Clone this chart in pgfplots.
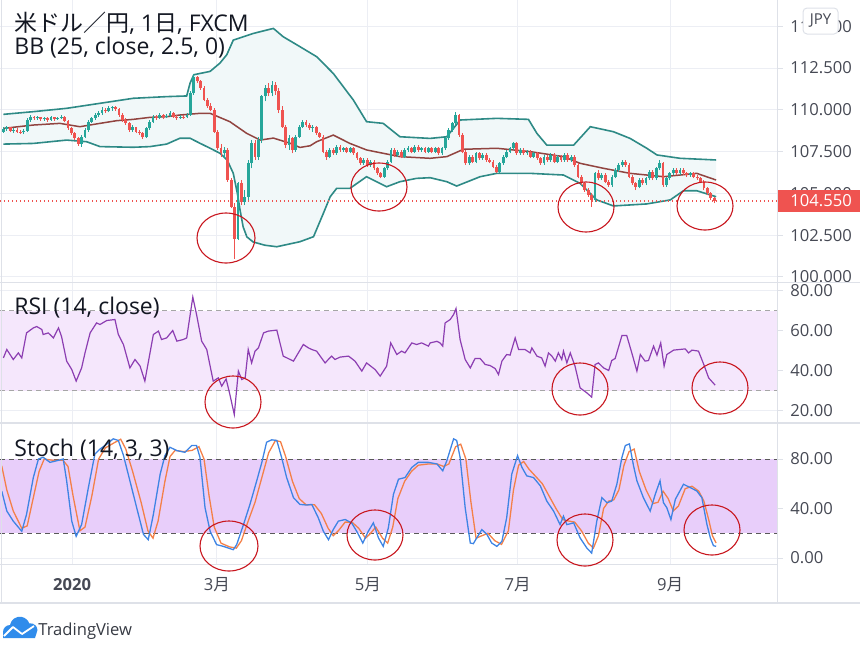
\documentclass[border=0pt]{standalone}
\usepackage{pgfplots}
\pgfplotsset{compat=1.18}
\usepackage{pgfplotstable}
\usepackage{fontspec}
\setmainfont{Open Sans}
\newfontfamily\cjk{Noto Sans CJK JP}
\definecolor{upc}{RGB}{38,166,154}
\definecolor{dnc}{RGB}{239,83,80}
\definecolor{bbc}{RGB}{46,138,134}
\definecolor{bbfill}{RGB}{241,248,249}
\definecolor{basisc}{RGB}{145,68,64}
\definecolor{rsic}{RGB}{140,62,178}
\definecolor{rsifill}{RGB}{245,231,252}
\definecolor{stfill}{RGB}{232,206,250}
\definecolor{kc}{RGB}{62,132,228}
\definecolor{dc}{RGB}{244,128,72}
\definecolor{gridc}{RGB}{236,238,244}
\definecolor{sepc}{RGB}{222,225,232}
\definecolor{tickc}{RGB}{70,73,84}
\definecolor{titlec}{RGB}{19,23,34}
\definecolor{circc}{RGB}{200,22,30}
\definecolor{tvblue}{RGB}{48,140,235}

\pgfplotstableread{
i o h l c
1 108.70 109.00 108.60 108.85
2 108.85 109.05 108.75 108.95
3 108.95 109.00 108.65 108.75
4 108.75 108.90 108.60 108.80
5 108.80 108.90 108.60 108.70
6 108.70 108.80 108.55 108.65
7 108.65 108.85 108.55 108.75
8 108.75 109.50 108.70 109.40
9 109.40 109.70 109.30 109.60
10 109.60 109.65 109.40 109.50
11 109.50 109.65 109.40 109.55
12 109.55 109.60 109.35 109.45
13 109.45 109.60 109.35 109.50
14 109.50 109.55 109.30 109.40
15 109.40 109.65 109.35 109.55
16 109.55 109.60 109.35 109.45
17 109.45 109.60 109.40 109.50
18 109.50 109.70 109.45 109.60
19 109.60 109.65 109.25 109.35
20 109.35 109.40 108.80 108.90
21 108.90 109.00 108.50 108.60
22 108.60 108.70 108.20 108.30
23 108.30 108.40 107.85 107.95
24 107.95 108.50 107.80 108.40
25 108.40 108.90 108.30 108.80
26 108.80 109.40 108.70 109.30
27 109.30 109.60 109.20 109.50
28 109.50 109.80 109.40 109.70
29 109.70 109.95 109.60 109.80
30 109.80 110.15 109.70 110.00
31 110.00 110.10 109.80 109.90
32 109.90 110.20 109.85 110.10
33 110.10 110.25 109.95 110.15
34 110.15 110.25 109.95 110.05
35 110.05 110.10 109.60 109.70
36 109.70 109.80 109.30 109.40
37 109.40 109.50 109.10 109.20
38 109.20 109.30 108.70 108.80
39 108.80 109.10 108.70 108.95
40 108.95 109.00 108.60 108.70
41 108.70 108.80 108.50 108.60
42 108.60 108.70 108.25 108.35
43 108.35 109.00 108.30 108.90
44 108.90 109.40 108.80 109.30
45 109.30 109.70 109.20 109.60
46 109.60 109.70 109.40 109.50
47 109.50 109.80 109.45 109.70
48 109.70 109.75 109.45 109.55
49 109.55 109.75 109.50 109.65
50 109.65 109.90 109.60 109.80
51 109.80 109.85 109.50 109.60
52 109.60 109.70 109.40 109.50
53 109.50 109.70 109.45 109.60
54 109.60 109.70 109.45 109.55
55 109.55 109.80 109.50 109.70
56 109.70 111.10 109.65 111.00
57 111.00 112.15 110.90 111.95
58 111.95 112.05 111.60 111.70
59 111.70 111.80 111.20 111.30
60 111.30 111.40 110.50 110.60
61 110.60 110.70 110.10 110.20
62 110.20 110.40 109.90 110.00
63 110.00 110.10 108.60 108.70
64 108.70 108.80 107.60 107.70
65 107.70 107.95 107.20 107.40
66 107.40 107.80 107.10 107.60
67 107.60 107.70 105.70 105.80
68 105.80 105.95 104.10 104.20
69 104.20 104.40 101.10 102.30
70 102.30 105.70 102.20 105.60
71 105.60 105.80 104.30 104.50
72 104.50 105.20 104.30 104.80
73 104.80 107.00 104.60 106.80
74 106.80 108.20 106.50 108.00
75 108.00 108.20 107.00 107.20
76 107.20 108.40 107.00 108.20
77 108.20 110.90 108.00 110.80
78 110.80 111.50 110.50 111.30
79 111.30 111.60 110.80 111.00
80 111.00 111.75 110.80 111.50
81 111.50 111.65 110.90 111.10
82 111.10 111.30 109.80 110.00
83 110.00 110.20 108.90 109.00
84 109.00 109.10 107.70 107.90
85 107.90 108.50 107.60 108.30
86 108.30 108.40 107.40 107.60
87 107.60 108.50 107.50 108.40
88 108.40 109.10 108.30 109.00
89 109.00 109.40 108.90 109.30
90 109.30 109.40 108.95 109.10
91 109.10 109.20 108.80 108.90
92 108.90 109.10 108.70 109.00
93 109.00 109.05 108.50 108.60
94 108.60 108.70 108.30 108.40
95 108.40 108.50 107.40 107.50
96 107.50 107.60 107.00 107.20
97 107.20 107.70 107.10 107.60
98 107.60 107.70 107.30 107.40
99 107.40 107.90 107.30 107.80
100 107.80 107.90 107.50 107.60
101 107.60 107.80 107.50 107.70
102 107.70 107.80 107.40 107.50
103 107.50 107.80 107.40 107.70
104 107.70 107.75 107.30 107.40
105 107.40 107.50 107.00 107.10
106 107.10 107.20 106.70 106.80
107 106.80 107.10 106.70 107.00
108 107.00 107.10 106.60 106.70
109 106.70 107.00 106.60 106.90
110 106.90 107.00 106.40 106.50
111 106.50 106.60 106.10 106.20
112 106.20 106.30 105.90 106.00
113 106.00 106.60 105.95 106.50
114 106.50 107.00 106.40 106.90
115 106.90 107.70 106.80 107.60
116 107.60 107.70 107.20 107.30
117 107.30 107.60 107.20 107.50
118 107.50 107.60 107.10 107.20
119 107.20 107.70 107.10 107.60
120 107.60 107.85 107.50 107.70
121 107.70 107.80 107.40 107.50
122 107.50 107.90 107.40 107.80
123 107.80 107.90 107.50 107.60
124 107.60 107.80 107.50 107.70
125 107.70 107.80 107.40 107.50
126 107.50 107.80 107.40 107.70
127 107.70 107.80 107.40 107.50
128 107.50 107.80 107.40 107.70
129 107.70 107.75 107.30 107.40
130 107.40 107.80 107.30 107.70
131 107.70 108.40 107.60 108.30
132 108.30 108.90 108.20 108.80
133 108.80 109.30 108.70 109.20
134 109.20 109.85 109.10 109.70
135 109.70 109.75 108.40 108.50
136 108.50 108.60 107.40 107.50
137 107.50 107.60 106.70 106.80
138 106.80 107.30 106.70 107.20
139 107.20 107.30 106.80 106.90
140 106.90 107.50 106.80 107.40
141 107.40 107.50 107.00 107.10
142 107.10 107.40 107.00 107.30
143 107.30 107.40 106.90 107.00
144 107.00 107.10 106.80 106.90
145 106.90 107.00 106.50 106.60
146 106.60 106.70 106.20 106.30
147 106.30 106.90 106.20 106.80
148 106.80 107.30 106.70 107.20
149 107.20 107.60 107.10 107.50
150 107.50 107.80 107.40 107.70
151 107.70 108.10 107.60 108.00
152 108.00 108.05 107.30 107.40
153 107.40 107.70 107.30 107.60
154 107.60 107.70 107.30 107.40
155 107.40 107.60 107.30 107.50
156 107.50 107.60 107.10 107.20
157 107.20 107.50 107.10 107.40
158 107.40 107.50 107.00 107.10
159 107.10 107.20 106.70 106.80
160 106.80 107.30 106.70 107.20
161 107.20 107.30 106.90 107.00
162 107.00 107.40 106.90 107.30
163 107.30 107.40 106.80 106.90
164 106.90 107.30 106.80 107.20
165 107.20 107.30 106.90 107.00
166 107.00 107.40 106.90 107.30
167 107.30 107.40 106.90 107.00
168 107.00 107.30 106.90 107.20
169 107.20 107.30 106.60 106.70
170 106.70 106.80 105.90 106.00
171 106.00 106.10 105.50 105.60
172 105.60 105.70 105.10 105.20
173 105.20 105.30 104.80 104.90
174 104.90 105.00 104.20 104.60
175 104.60 106.30 104.50 106.20
176 106.20 106.40 105.80 105.90
177 105.90 106.20 105.80 106.10
178 106.10 106.20 105.60 105.70
179 105.70 105.80 105.40 105.50
180 105.50 106.10 105.40 106.00
181 106.00 106.50 105.90 106.40
182 106.40 106.80 106.30 106.70
183 106.70 107.00 106.60 106.90
184 106.90 107.00 106.60 106.70
185 106.70 106.80 105.90 106.00
186 106.00 106.10 105.50 105.60
187 105.60 105.70 105.20 105.40
188 105.40 105.90 105.30 105.80
189 105.80 105.90 105.50 105.60
190 105.60 106.00 105.50 105.90
191 105.90 106.40 105.80 106.30
192 106.30 106.40 105.80 105.90
193 105.90 106.60 105.80 106.50
194 106.50 107.00 106.40 106.80
195 106.80 106.90 105.40 105.50
196 105.50 106.00 105.40 105.90
197 105.90 106.30 105.80 106.20
198 106.20 106.50 106.10 106.40
199 106.40 106.50 106.10 106.20
200 106.20 106.50 106.10 106.40
201 106.40 106.50 106.10 106.20
202 106.20 106.30 106.00 106.10
203 106.10 106.30 106.00 106.20
204 106.20 106.30 105.90 106.00
205 106.00 106.10 105.80 105.90
206 105.90 106.00 105.60 105.70
207 105.70 105.80 105.20 105.30
208 105.30 105.40 104.90 105.00
209 105.00 105.10 104.60 104.70
210 104.70 104.80 104.40 104.55
}\candles

\pgfplotsset{
  panel/.style={scale only axis, width=388.5pt, xmin=0, xmax=228.5,
    axis line style={draw=none},
    xtick={21.18,63.8,108.2,152.2,197.1}, xticklabels={},
    xtick style={draw=none},
    ytick pos=right, ytick align=outside, major tick length=3pt,
    ytick style={draw=sepc, line width=0.5pt},
    xmajorgrids, ymajorgrids, grid style={draw=gridc, line width=0.5pt},
    yticklabel pos=right,
    yticklabel style={anchor=west, inner sep=0pt, xshift=3.5pt,
      font=\fontsize{8.3}{9}\selectfont, text=tickc}},
  wick/.style={draw=none, mark=none, forget plot,
    error bars/.cd, y dir=plus, y explicit, error mark=none,
    error bar style={draw=#1, line width=0.45pt}},
  body/.style={draw=none, mark=none, forget plot,
    error bars/.cd, y dir=plus, y explicit, error mark=none,
    error bar style={draw=#1, line width=1.4pt}},
}

\begin{document}
\begin{tikzpicture}
\useasboundingbox (0,0) rectangle (430pt,-324pt);

% ---------------- main price panel ----------------
\begin{axis}[panel, at={(0pt,0pt)}, anchor=north west, height=141pt,
  ymin=99.70, ymax=116.57, ytick={100,102.5,105,107.5,110,112.5,115},
  yticklabel style={/pgf/number format/.cd, fixed, fixed zerofill, precision=3, 1000 sep={}, assume math mode=true}]
% band fill: upper band forward, lower band backward
\addplot[fill=bbfill, draw=none] coordinates {
(1.0,109.73)(9.8,109.89)(19.6,110.09)(29.4,110.39)(39.2,110.69)(49.0,110.79)(54.9,110.83)(55.9,111.60)(57.0,112.10)(61.8,112.30)(64.7,112.80)(66.7,113.30)(68.6,114.17)(74.5,114.57)(78.4,114.77)(80.4,114.87)(83.3,114.37)(88.2,113.78)(93.1,113.18)(98.0,112.18)(103.9,110.59)(107.8,109.29)(112.7,109.19)(117.6,108.39)(126.5,108.29)(131.4,108.39)(135.3,109.39)(146.1,109.49)(155.4,109.43)(157.9,108.59)(160.8,107.89)(168.7,107.89)(173.6,108.99)(180.4,108.69)(185.3,108.29)(190.2,107.70)(193.2,107.30)(200.0,107.10)(210.6,107.00)
(210.6,104.80)(204.9,105.16)(201.0,105.16)(197.1,104.61)(190.2,104.37)(180.4,104.25)(175.5,104.61)(170.6,105.60)(165.7,106.10)(155.9,106.20)(146.1,106.20)(141.2,106.00)(134.3,105.44)(131.4,105.70)(126.5,105.94)(122.5,105.90)(117.6,105.70)(113.7,105.40)(107.8,106.00)(102.9,105.30)(99.0,105.30)(97.1,104.80)(95.1,103.81)(92.2,102.41)(88.2,102.11)(81.4,101.81)(77.9,101.90)(74.4,102.10)(72.6,102.40)(71.5,103.00)(70.6,104.00)(69.8,105.00)(68.6,106.20)(66.8,107.00)(64.7,107.40)(61.8,107.70)(58.8,108.00)(55.9,108.30)(52.9,108.30)(49.0,107.95)(44.1,107.80)(39.2,107.76)(29.4,107.80)(25.5,108.09)(19.6,108.19)(9.8,107.99)(1.0,107.95)};
\addplot[draw=bbc, line width=0.8pt] coordinates {
(1.0,109.73)(9.8,109.89)(19.6,110.09)(29.4,110.39)(39.2,110.69)(49.0,110.79)(54.9,110.83)(55.9,111.60)(57.0,112.10)(61.8,112.30)(64.7,112.80)(66.7,113.30)(68.6,114.17)(74.5,114.57)(78.4,114.77)(80.4,114.87)(83.3,114.37)(88.2,113.78)(93.1,113.18)(98.0,112.18)(103.9,110.59)(107.8,109.29)(112.7,109.19)(117.6,108.39)(126.5,108.29)(131.4,108.39)(135.3,109.39)(146.1,109.49)(155.4,109.43)(157.9,108.59)(160.8,107.89)(168.7,107.89)(173.6,108.99)(180.4,108.69)(185.3,108.29)(190.2,107.70)(193.2,107.30)(200.0,107.10)(210.6,107.00)};
\addplot[draw=bbc, line width=0.8pt] coordinates {
(1.0,107.95)(9.8,107.99)(19.6,108.19)(25.5,108.09)(29.4,107.80)(39.2,107.76)(44.1,107.80)(49.0,107.95)(52.9,108.30)(55.9,108.30)(58.8,108.00)(61.8,107.70)(64.7,107.40)(66.8,107.00)(68.6,106.20)(69.8,105.00)(70.6,104.00)(71.5,103.00)(72.6,102.40)(74.4,102.10)(77.9,101.90)(81.4,101.81)(88.2,102.11)(92.2,102.41)(95.1,103.81)(97.1,104.80)(99.0,105.30)(102.9,105.30)(107.8,106.00)(113.7,105.40)(117.6,105.70)(122.5,105.90)(126.5,105.94)(131.4,105.70)(134.3,105.44)(141.2,106.00)(146.1,106.20)(155.9,106.20)(165.7,106.10)(170.6,105.60)(175.5,104.61)(180.4,104.25)(190.2,104.37)(197.1,104.61)(201.0,105.16)(204.9,105.16)(210.6,104.80)};
\addplot[draw=basisc, line width=0.75pt] coordinates {
(1.0,108.89)(9.8,109.09)(17.6,109.19)(23.5,108.99)(29.4,109.19)(34.3,109.35)(39.2,109.43)(44.1,109.55)(49.0,109.59)(52.9,109.69)(58.8,109.79)(61.8,109.79)(67.6,109.29)(72.5,108.60)(76.5,108.19)(80.4,108.31)(85.3,108.00)(88.2,107.75)(91.2,107.85)(93.1,108.09)(98.0,108.49)(102.9,107.99)(107.8,107.60)(112.7,107.40)(117.6,107.20)(126.5,107.10)(131.4,107.20)(136.3,107.64)(146.1,107.70)(155.9,107.50)(165.7,107.20)(170.6,106.80)(177.5,106.50)(185.3,106.20)(195.1,106.00)(204.9,106.20)(210.6,105.80)};
\addplot[draw=dnc, line width=0.6pt, dash pattern=on 0.6pt off 1.4pt] coordinates {(0,104.55)(228.5,104.55)};
\addplot[wick=upc] table[x=i, y expr={\thisrow{c}>=\thisrow{o} ? \thisrow{l} : nan}, y error plus expr={\thisrow{h}-\thisrow{l}}]{\candles};
\addplot[wick=dnc] table[x=i, y expr={\thisrow{c}<\thisrow{o} ? \thisrow{l} : nan}, y error plus expr={\thisrow{h}-\thisrow{l}}]{\candles};
\addplot[body=upc] table[x=i, y expr={\thisrow{c}>=\thisrow{o} ? \thisrow{o} : nan}, y error plus expr={\thisrow{c}-\thisrow{o}}]{\candles};
\addplot[body=dnc] table[x=i, y expr={\thisrow{c}<\thisrow{o} ? \thisrow{c} : nan}, y error plus expr={\thisrow{o}-\thisrow{c}}]{\candles};
\end{axis}

% ---------------- RSI panel ----------------
\begin{axis}[panel, at={(0pt,-141.5pt)}, anchor=north west, height=70pt,
  ymin=13.75, ymax=83.75, ytick={20,40,60,80},
  yticklabel style={/pgf/number format/.cd, fixed, fixed zerofill, precision=2, assume math mode=true}]
\fill[rsifill] (axis cs:0,30) rectangle (axis cs:228.5,70);
\addplot[draw=gray!70, line width=0.5pt, dash pattern=on 2.5pt off 2pt] coordinates {(0,70)(228.5,70)};
\addplot[draw=gray!70, line width=0.5pt, dash pattern=on 2.5pt off 2pt] coordinates {(0,30)(228.5,30)};
\addplot[draw=rsic, line width=0.6pt] coordinates {
(1.0,46.3)(2.0,50.5)(3.9,45.5)(5.4,48.8)(6.4,46.3)(7.8,58.8)(9.8,61.3)(10.8,62)(12.3,60.5)(12.7,58)(14.2,58.8)(15.7,56.3)(17.2,61.3)(18.1,57)(19.6,44.7)(21.1,40.5)(22.4,34.7)(24.0,41.3)(25.0,48.8)(26.5,58.8)(28.4,63.8)(29.4,63)(31.4,65)(33.8,65.5)(34.8,58)(36.3,53)(38.2,41.3)(39.7,45.5)(41.2,42.2)(42.6,34.7)(45.1,58)(46.6,59.7)(47.5,55.5)(49.0,56.3)(50.8,60)(52.0,54.7)(53.9,55.5)(54.9,56.3)(56.7,76.7)(57.8,68)(59.3,54.7)(60.8,50.5)(62.7,34.7)(64.2,36.3)(65.2,32.2)(66.5,35.8)(67.6,28)(68.9,18)(70.1,39.7)(71.1,35.5)(72.1,36.3)(73.0,50.5)(74.0,43.8)(75.0,49.7)(76.0,51.3)(77.5,58.8)(78.9,59.7)(81.4,60.2)(83.3,47.2)(86.3,44.7)(89.2,53)(90.7,51.3)(91.7,50.5)(93.1,49.7)(95.6,43.8)(97.5,47.2)(98.5,45.5)(100.0,46.7)(102.5,47.2)(104.4,44.7)(106.4,39.7)(107.8,43.8)(110.3,40.5)(111.8,37.2)(113.7,42.2)(114.9,53.8)(116.7,48)(118.1,49.7)(119.1,48.8)(121.1,53.8)(122.5,53)(124.0,53.8)(126.0,52.2)(126.5,53.8)(128.5,54.6)(129.4,53.8)(130.2,52.2)(130.9,63.8)(132.4,65.5)(133.4,68)(134.1,71)(135.3,55.5)(136.8,45.5)(138.3,41.3)(139.7,46)(141.2,46)(142.7,43)(144.1,42.5)(145.6,41)(146.6,38)(147.6,44.7)(149.0,48)(150.0,47.7)(151.5,56.3)(152.5,50.5)(154.4,50.5)(155.9,48.8)(156.4,51.3)(157.9,47.2)(159.3,46.3)(160.3,42.2)(161.3,48.8)(162.3,47.2)(163.3,44.7)(164.2,48.8)(165.2,45.5)(165.7,49.7)(166.7,43.8)(167.7,48.8)(169.1,42.2)(170.6,31.3)(172.6,28.8)(174.0,26.7)(175.0,43)(176.0,43.8)(177.5,41.3)(179.0,40)(179.9,45)(180.9,46)(182.9,57.5)(184.3,57.5)(185.8,48.8)(187.3,39.7)(188.3,48)(189.7,44.7)(190.7,45)(192.2,52.2)(193.2,47.7)(194.3,53.8)(195.3,42.2)(196.1,48)(198.1,50.2)(201.5,50.8)(202.5,48.8)(203.5,50.2)(205.4,49.7)(206.9,43.3)(208.4,36.3)(210.3,32.7)};
\end{axis}

% ---------------- Stoch panel ----------------
\begin{axis}[panel, at={(0pt,-211.5pt)}, anchor=north west, height=70.5pt,
  ymin=-4.85, ymax=109.1, ytick={0,40,80},
  xticklabels={\textbf{2020},3{\cjk 月},5{\cjk 月},7{\cjk 月},9{\cjk 月}},
  xticklabel style={anchor=base, inner sep=0pt, yshift=-13pt, font=\fontsize{8.3}{9}\selectfont, text=tickc},
  yticklabel style={/pgf/number format/.cd, fixed, fixed zerofill, precision=2, assume math mode=true}]
\fill[stfill] (axis cs:0,20) rectangle (axis cs:228.5,80);
\addplot[draw=black!65, line width=0.5pt, dash pattern=on 2.5pt off 2pt] coordinates {(0,80)(228.5,80)};
\addplot[draw=black!65, line width=0.5pt, dash pattern=on 2.5pt off 2pt] coordinates {(0,20)(228.5,20)};
\addplot[draw=dc, line width=0.65pt] coordinates {
(0.5,74.6)(2.0,55)(3.9,38)(6.4,24)(8.0,26)(9.5,45)(11.5,70)(13.0,80)(15.5,79)(18.5,79)(20.0,74)(21.5,50)(23.5,22)(25.0,25)(27.0,50)(29.0,80)(31.0,89)(33.5,93)(35.5,96)(37.0,88)(39.0,70)(41.5,45)(43.5,22)(45.0,16)(46.5,30)(48.5,62)(50.0,82)(51.5,87)(54.0,86)(56.5,87)(58.5,90)(60.0,80)(61.5,50)(63.0,25)(65.0,12)(67.5,9)(69.5,8)(71.0,14)(73.0,30)(75.0,45)(77.0,65)(79.0,85)(81.0,95)(82.5,94)(84.0,82)(86.0,62)(88.0,48)(90.0,43)(92.5,43)(94.5,36)(96.5,24)(98.0,18)(99.5,22)(101.5,29)(103.5,29)(105.5,24)(107.5,16)(109.0,20)(110.5,25)(112.5,16)(114.0,12)(115.5,25)(117.0,48)(119.0,62)(121.0,70)(123.0,75)(126.0,76)(128.5,76)(130.5,74)(132.0,76)(134.0,90)(135.5,92)(137.0,80)(138.5,45)(140.0,16)(141.7,18)(143.5,20)(145.5,14)(147.5,11)(149.5,22)(151.0,55)(152.5,75)(154.0,78)(155.5,72)(157.5,66)(159.5,60)(161.5,50)(163.5,40)(165.5,31)(167.0,30)(169.0,29)(171.0,22)(173.0,12)(174.5,8)(176.0,18)(177.5,40)(179.0,46)(180.5,47)(182.0,55)(183.5,75)(185.0,86)(186.5,88)(188.0,70)(190.0,55)(192.0,44)(193.5,45)(195.0,54)(196.5,48)(198.0,38)(199.5,42)(201.5,56)(203.5,58)(205.5,54)(207.0,46)(208.5,30)(209.5,18)(210.6,12.1)};
\addplot[draw=kc, line width=0.65pt] coordinates {
(0.5,54.2)(2.0,38)(3.9,29.8)(6.4,21.6)(7.8,35.2)(9.8,65)(11.3,80)(12.7,81.4)(14.7,77.3)(16.7,78.6)(18.6,80)(19.6,62.4)(21.1,29.8)(22.4,17.5)(24.0,27)(26.0,57)(27.9,84)(29.4,88)(31.4,92)(33.3,96.3)(34.8,95)(36.3,83)(38.2,62.4)(40.2,40.6)(42.2,19)(43.6,14.8)(45.1,35.2)(47.1,67.8)(48.5,82.7)(50.0,89.5)(52.0,86.8)(54.4,85.4)(56.4,90.9)(57.8,90.9)(58.8,81.4)(60.3,40.6)(61.8,21.6)(63.7,10.8)(65.7,9.4)(67.2,8)(68.6,6.7)(69.6,10.8)(71.6,27)(73.5,43.3)(75.5,62.4)(77.0,77.3)(78.4,93.6)(79.9,95.5)(81.4,95)(82.8,81.4)(84.3,65)(86.3,48.8)(88.2,43.3)(90.2,42.8)(91.7,43.3)(93.6,32.5)(95.1,21.6)(96.6,14.8)(98.0,23)(99.5,29.8)(101.5,31.1)(103.4,28.4)(104.9,21.6)(106.7,12.1)(108.3,21.6)(109.8,28.4)(111.3,16.2)(112.7,9.4)(114.2,24.3)(115.7,51.5)(117.2,63.7)(119.1,65)(121.1,73.2)(123.0,77.3)(126.0,77.3)(128.5,76)(130.2,70.5)(131.4,78.6)(133.4,96.3)(134.3,95)(135.3,81.4)(136.8,40.6)(138.3,12.1)(139.2,11.6)(140.2,16.2)(141.7,23)(143.2,19)(144.6,12.1)(146.1,9.4)(147.6,13.5)(149.0,32.5)(150.5,67.8)(152.2,82.7)(153.5,73.2)(154.9,66.4)(156.9,65)(158.9,58.3)(160.8,46)(162.8,37.9)(164.7,27)(165.7,33.8)(166.7,27)(168.7,28.4)(170.6,16.2)(172.6,8)(174.0,4)(175.5,29.8)(177.0,48.8)(178.5,44.7)(179.9,46)(181.4,59.6)(182.9,81.4)(183.9,90.9)(185.1,92.2)(186.3,74.6)(187.3,62.4)(189.2,48.8)(191.2,37.9)(192.7,51.5)(194.1,62.4)(195.1,44.7)(196.1,40.6)(197.3,31.1)(198.6,47.4)(201.0,59.6)(203.0,56.9)(204.9,54.2)(206.4,48.8)(207.9,27)(208.9,16.2)(209.8,10)(210.6,9.4)};
\end{axis}

% ---------------- frame and separators ----------------
\draw[sepc, line width=0.6pt] (0,-141.25pt) -- (430pt,-141.25pt);
\draw[sepc, line width=0.6pt] (0,-211.5pt) -- (430pt,-211.5pt);
\draw[sepc, line width=0.5pt] (0,-282pt) -- (388.75pt,-282pt);
\draw[sepc, line width=0.6pt] (388.75pt,0) -- (388.75pt,-301.5pt);
\draw[sepc, line width=0.6pt] (0,-301.5pt) -- (430pt,-301.5pt);
\draw[sepc, line width=0.6pt] (0.8pt,0) -- (0.8pt,-301.5pt);

% ---------------- legends ----------------
\begin{scope}[every node/.style={anchor=base west, inner sep=0pt, text=titlec, font=\fontsize{11.5}{13}\selectfont}]
\node at (7pt,-16pt) {{\cjk 米ドル／円}, 1{\cjk 日}, FXCM};
\node at (7pt,-27pt) {BB (25, close, 2.5, 0)};
\node at (7pt,-157pt) {RSI (14, close)};
\node at (7pt,-228pt) {Stoch (14, 3, 3)};
\end{scope}

% ---------------- price label and currency box ----------------
\fill[dnc] (389.1pt,-95pt) rectangle (430pt,-106pt);
\node[anchor=west, inner sep=0pt, text=white, font=\fontsize{8.3}{9}\selectfont] at (395pt,-100.5pt) {104.550};
\draw[draw=sepc, fill=white, rounded corners=2pt, line width=0.5pt] (401.5pt,-4pt) rectangle (419pt,-17pt);
\node[inner sep=0pt, text=tickc, font=\fontsize{7.5}{9}\selectfont] at (410.25pt,-10.5pt) {JPY};

% ---------------- annotation ellipses ----------------
\begin{scope}[circc, line width=0.55pt]
\draw (113pt,-119pt) ellipse [x radius=14.5pt, y radius=12.5pt];
\draw (189.5pt,-93.5pt) ellipse [x radius=14pt, y radius=12pt];
\draw (293pt,-103.5pt) ellipse [x radius=14pt, y radius=12.5pt];
\draw (352.5pt,-103pt) ellipse [x radius=14pt, y radius=12pt];
\draw (116.5pt,-201pt) ellipse [x radius=14pt, y radius=13pt];
\draw (290pt,-194.5pt) ellipse [x radius=14pt, y radius=13pt];
\draw (360pt,-194pt) ellipse [x radius=14pt, y radius=13pt];
\draw (114.5pt,-273pt) ellipse [x radius=14.5pt, y radius=12.5pt];
\draw (187.5pt,-267.5pt) ellipse [x radius=14pt, y radius=12.5pt];
\draw (292.5pt,-270pt) ellipse [x radius=14pt, y radius=13pt];
\draw (356pt,-265pt) ellipse [x radius=14pt, y radius=12.5pt];
\end{scope}

% ---------------- TradingView logo ----------------
\fill[tvblue] (1.5pt,-319pt) -- (1.5pt,-316pt) arc[start angle=180, end angle=90, radius=3.5pt]
  arc[start angle=170, end angle=20, radius=5pt] arc[start angle=100, end angle=0, radius=3.5pt]
  -- (17.5pt,-319pt) -- cycle;
\draw[white, line width=0.9pt, line join=round] (2pt,-318pt) -- (6.5pt,-313.5pt) -- (11pt,-317pt) -- (17pt,-313pt);
\node[anchor=base west, inner sep=0pt, text=titlec!85, font=\fontsize{8.3}{10}\selectfont] at (19pt,-317.5pt) {TradingView};
\end{tikzpicture}
\end{document}
